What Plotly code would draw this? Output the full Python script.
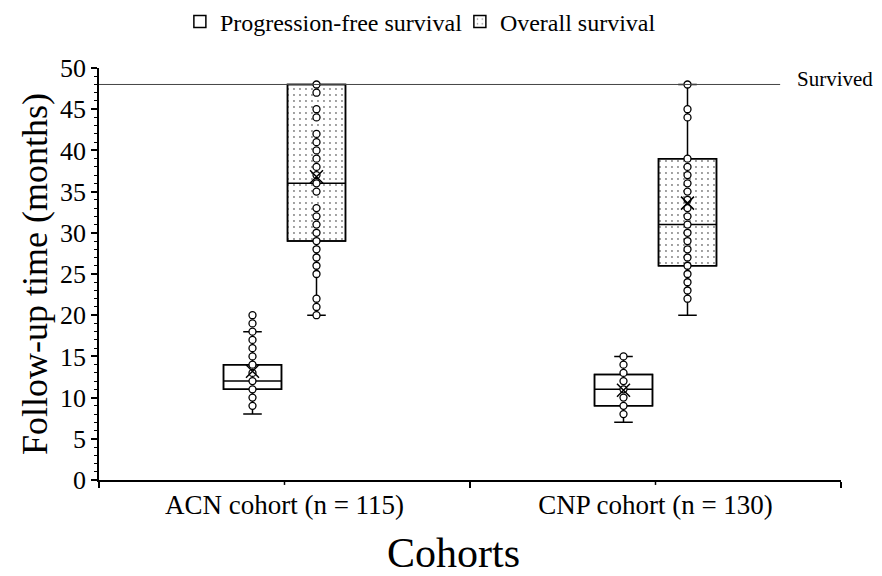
import plotly.graph_objects as go

# ---- data ----
cohorts = ["ACN cohort (n = 115)", "CNP cohort (n = 130)"]
series_names = ["Progression-free survival", "Overall survival"]

# Progression-free survival (months)
pfs_q1 = [11, 9]
pfs_median = [12, 11]
pfs_q3 = [14, 12.8]
pfs_low = [8, 7]
pfs_high = [18, 15]
pfs_mean = [13.2, 10.9]
pfs_points = [
    [9, 10, 11, 12, 13, 14, 15, 16, 17, 18, 19, 20],
    [8, 9, 10, 11, 12, 13, 14, 15],
]

# Overall survival (months)
os_q1 = [29, 26]
os_median = [36, 31]
os_q3 = [48, 39]
os_low = [20, 20]
os_high = [48, 48]
os_mean = [36.8, 33.6]
os_points = [
    [20, 21, 22, 25, 26, 27, 28, 29, 30, 31, 32, 33, 35, 36, 37, 38, 39, 40,
     41, 42, 44, 45, 47, 48],
    [22, 23, 24, 25, 26, 27, 28, 29, 30, 31, 32, 33, 34, 35, 36, 37, 38, 39,
     44, 45, 48],
]

survived_value = 48
y_ticks = [0, 5, 10, 15, 20, 25, 30, 35, 40, 45, 50]

# ---- styling ----
FONT = "Liberation Serif, Times New Roman, serif"
GAP = 0.655
GROUPGAP = 0.094
BOXLINE = 1.5

fig = go.Figure()

# boxes (Q1-Q3) as bars, to carry white / dotted fills and legend squares
fig.add_trace(go.Bar(
    x=cohorts, y=[b - a for a, b in zip(pfs_q1, pfs_q3)], base=pfs_q1,
    name=series_names[0], offsetgroup="pfs",
    marker=dict(color="white", line=dict(color="black", width=BOXLINE)),
    hoverinfo="skip",
))
fig.add_trace(go.Bar(
    x=cohorts, y=[b - a for a, b in zip(os_q1, os_q3)], base=os_q1,
    name=series_names[1], offsetgroup="os",
    marker=dict(color="white", line=dict(color="black", width=BOXLINE),
                pattern=dict(shape=".", fgcolor="black", bgcolor="white",
                             size=6, solidity=0.08)),
    hoverinfo="skip",
))

point_marker = dict(symbol="circle", size=7, color="white",
                    line=dict(color="black", width=1.3))

for pts, q1, med, q3, lo, hi, grp in [
    (pfs_points, pfs_q1, pfs_median, pfs_q3, pfs_low, pfs_high, "pfs"),
    (os_points, os_q1, os_median, os_q3, os_low, os_high, "os"),
]:
    fig.add_trace(go.Box(
        x=cohorts, y=pts, q1=q1, median=med, q3=q3,
        lowerfence=lo, upperfence=hi, offsetgroup=grp,
        boxpoints="all", jitter=0, pointpos=0,
        fillcolor="rgba(0,0,0,0)", line=dict(color="black", width=BOXLINE),
        whiskerwidth=0.32, marker=point_marker, showlegend=False,
        hoverinfo="skip",
    ))

for means, grp in [(pfs_mean, "pfs"), (os_mean, "os")]:
    fig.add_trace(go.Scatter(
        x=cohorts, y=means, mode="markers", offsetgroup=grp,
        marker=dict(symbol="x-thin-open", size=13, color="black",
                    line=dict(color="black", width=1.5)),
        showlegend=False, hoverinfo="skip",
    ))

# survived reference line
fig.add_shape(type="line", xref="paper", x0=0, x1=0.918,
              yref="y", y0=survived_value, y1=survived_value,
              line=dict(color="#444444", width=1))
fig.add_annotation(text="Survived", xref="paper", x=0.938, xanchor="left",
                   yref="y", y=survived_value, yanchor="middle", yshift=5,
                   showarrow=False, font=dict(family=FONT, size=21, color="black"))

# x-axis title (placed as annotation to match the reference's offset)
fig.add_annotation(text="Cohorts", xref="paper", x=0.478, xanchor="center",
                   yref="paper", y=-0.178, yanchor="middle", showarrow=False,
                   font=dict(family=FONT, size=42, color="black"))

# page body adds 8px margin; figure sized so the whole page is 882x576
fig.update_layout(
    width=874, height=568,
    margin=dict(l=91, r=41, t=60, b=96, autoexpand=False),
    paper_bgcolor="white", plot_bgcolor="white",
    font=dict(family=FONT, color="black"),
    barmode="group", bargap=GAP, bargroupgap=GROUPGAP,
    boxmode="group", boxgap=GAP, boxgroupgap=GROUPGAP,
    scattermode="group", scattergap=GAP,
    showlegend=True,
    legend=dict(orientation="h", x=0.109, xanchor="left",
                y=1.112, yanchor="middle",
                font=dict(family=FONT, size=24),
                bgcolor="rgba(0,0,0,0)", itemwidth=30, entrywidth=235),
    xaxis=dict(
        type="category", range=[-0.5, 1.5], tickson="boundaries",
        ticks="outside", ticklen=6, tickwidth=1.5, tickcolor="black",
        showline=True, linecolor="black", linewidth=1.5,
        showgrid=False, zeroline=False,
        tickfont=dict(family=FONT, size=27),
    ),
    yaxis=dict(
        range=[0, 50], tickvals=y_ticks,
        ticks="outside", ticklen=6, tickwidth=1.5, tickcolor="black",
        minor=dict(dtick=1, ticks="outside", ticklen=3, tickwidth=1,
                   tickcolor="black"),
        showline=True, linecolor="black", linewidth=1.5,
        showgrid=False, zeroline=False,
        tickfont=dict(family=FONT, size=26),
        title=dict(text="Follow-up time (months)", font=dict(family=FONT, size=36),
                   standoff=1),
    ),
)

# small ticks at category centres on the x axis
for c in cohorts:
    fig.add_shape(type="line", xref="x", x0=c, x1=c, yref="paper",
                  y0=0, y1=-0.012, line=dict(color="black", width=1.5))

fig.write_html("out.html")
